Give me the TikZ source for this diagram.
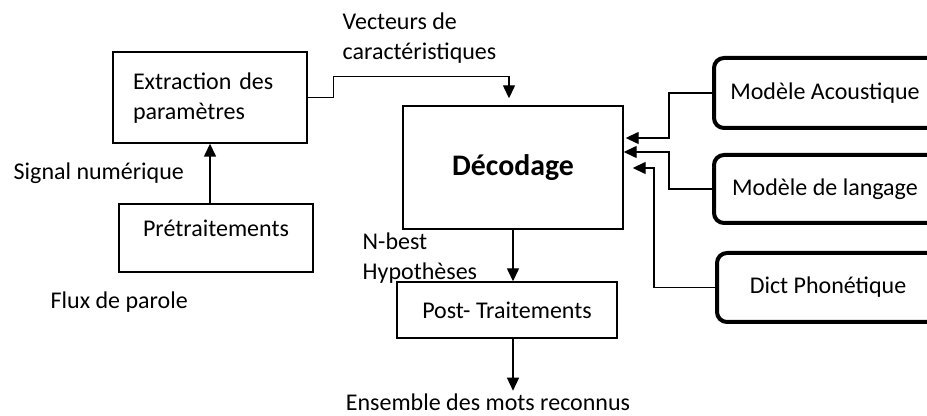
\documentclass[tikz,border=0pt]{standalone}
\usepackage{fontspec}
\setmainfont{Carlito}
\usetikzlibrary{arrows.meta,calc,positioning}

% texte centre dans la partie visible, le cadre deborde a droite
\newcommand{\modtexte}[1]{\hbox to 150pt{\hbox to 111pt{\hfil#1\hfil}\hfil}}

\begin{document}
\begin{tikzpicture}[x=0.5pt,y=-0.5pt,line width=0.7pt,
  every node/.style={font=\fontsize{12}{15}\selectfont,inner sep=0pt},
  bloc/.style={draw,rectangle,align=center},
  modele/.style={draw,rectangle,rounded corners=5pt,line width=2pt,anchor=west},
  texte/.style={align=left},
  fleche/.style={-{Triangle[length=6.5pt,width=6pt]}}]
\useasboundingbox (0,0) rectangle (927,416);
\clip (0,0) rectangle (927,416);
% blocs principaux
\node [bloc,minimum width=97pt,minimum height=45.5pt,text width=77pt,align=left,text depth=16pt] (Extraction) at (210,97.5) {Extraction des\\paramètres};
\node [bloc,minimum width=97pt,minimum height=34pt,text depth=10pt] (Pretraitement) at (216,238) {Prétraitements};
\node [bloc,minimum width=110pt,minimum height=61.5pt,font=\fontsize{14.9}{18}\selectfont\bfseries] (Decodage) at (513,167.5) {Décodage};
\node [bloc,minimum width=110pt,minimum height=28pt] (PostTraitement) at (507,310) {Post- Traitements};
% modeles
\node [modele,minimum height=35pt] (ModeleAcoustique) at (712,93) {\modtexte{Modèle Acoustique}};
\node [modele,minimum height=34pt] (ModeleLangage) at (712,189) {\modtexte{Modèle de langage}};
\node [modele,minimum height=34.5pt] (DictPhonetique) at (715,287.5) {\modtexte{Dict Phonétique}};
% textes
\node [texte,anchor=west] (Vecteurs) at (342,38) {Vecteurs de\\caractéristiques};
\node [texte,anchor=west] (Signal) at (13,173) {Signal numérique};
\node [texte,anchor=west] (Flux) at (50,302) {Flux de parole};
\node [texte,anchor=west] (NBest) at (362,258) {N-best\\Hypothèses};
\node (Ensemble) at (488,402) {Ensemble des mots reconnus};
% fleches
\draw [fleche] (Pretraitement.north -| Extraction.south) -- (Extraction.south);
\draw [fleche] (Extraction.east) -- ++(26,0) |- ($(Decodage.north)+(-4,-29)$) -- ($(Decodage.north)+(-4,-7)$);
\draw [fleche] (Decodage.south) -- (Decodage.south |- PostTraitement.north);
\draw [fleche] (PostTraitement.south -| Decodage.south) -- ++(0,52);
\draw [fleche] (ModeleAcoustique.west) -- ++(-43,0) |- ($(Decodage.east)+(2,-29.5)$);
\draw [fleche] (ModeleLangage.west) -- ++(-43,0) |- ($(Decodage.east)+(0,-15.5)$);
\draw [fleche] (DictPhonetique.west) -- ++(-61,0) |- ($(Decodage.east)+(9,0.5)$);
\end{tikzpicture}
\end{document}
